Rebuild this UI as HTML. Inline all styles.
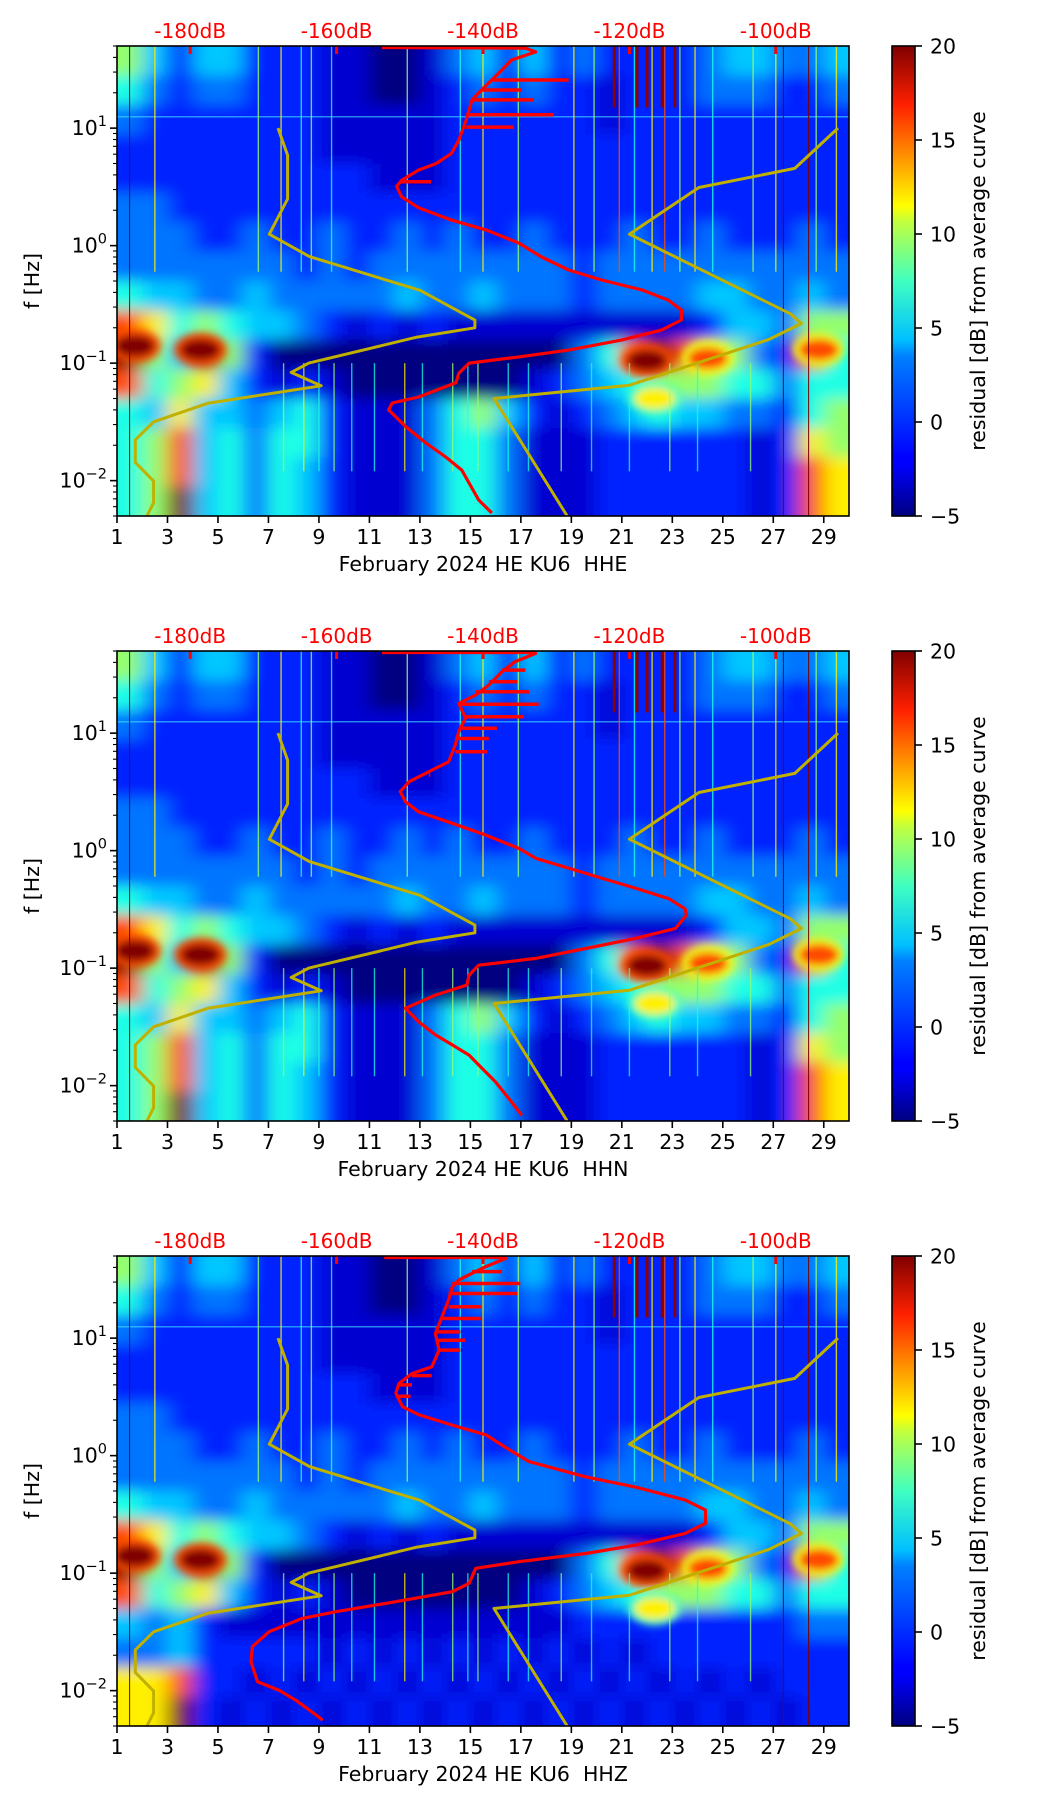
<!DOCTYPE html>
<html><head><meta charset="utf-8"><title>Residual spectrogram KU6</title>
<style>
html,body{margin:0;padding:0;background:#fff;}
svg{display:block;font-family:"DejaVu Sans","Liberation Sans",sans-serif;}
text{white-space:pre;}
</style></head>
<body>
<svg id="fig" xmlns="http://www.w3.org/2000/svg" width="1052" height="1806" viewBox="0 0 1052 1806">
<defs>
<filter id="blur" x="-5%" y="-5%" width="110%" height="110%"><feGaussianBlur stdDeviation="10 7"/></filter>
<filter id="blobBlur" x="-50%" y="-50%" width="200%" height="200%"><feGaussianBlur stdDeviation="4"/></filter>
<linearGradient id="jetGrad" x1="0" y1="1" x2="0" y2="0">
<stop offset="0" stop-color="#000080"/><stop offset="0.11" stop-color="#0000ff"/>
<stop offset="0.125" stop-color="#0000ff"/><stop offset="0.34" stop-color="#0080ff"/>
<stop offset="0.375" stop-color="#00c0ff"/><stop offset="0.5" stop-color="#40ffc0"/>
<stop offset="0.625" stop-color="#c0ff40"/><stop offset="0.66" stop-color="#ffff00"/>
<stop offset="0.875" stop-color="#ff2000"/><stop offset="1" stop-color="#800000"/>
</linearGradient>
</defs>
</svg>
<script>
// ---------- data ----------
const channels = ['HHE','HHN','HHZ'];
const dayTicks = [1,3,5,7,9,11,13,15,17,19,21,23,25,27,29];
const yTickExp = [-2,-1,0,1];
const dbTicks = [-180,-160,-140,-120,-100];
const cbarTicks = [-5,0,5,10,15,20];
const levelValues = [-5,-3,-1,1,3,5,8,11,15,20];

const nlnmPeriod = [0.1,0.17,0.4,0.8,1.24,2.4,4.3,5,6,10,12,15.6,21.9,31.6,45,70,101,154,200];
const nlnmDb = [-168.0,-166.7,-166.7,-169.2,-163.7,-148.6,-141.1,-141.1,-149.0,-163.8,-166.2,-162.1,-177.5,-185.0,-187.5,-187.5,-185.0,-185.0,-185.9];
const nhnmPeriod = [0.1,0.22,0.32,0.8,3.8,4.6,6.3,15.4,20,200];
const nhnmDb = [-91.5,-97.4,-110.5,-120.0,-98.0,-96.5,-101.0,-120.0,-138.5,-128.5];

const psdFreqE = [50,48,44.5,38,31.3,25.7,21.1,17.4,11.7,7.9,6.1,5.0,4.4,3.6,3.2,2.6,2.1,1.65,1.36,1.05,0.80,0.62,0.51,0.42,0.344,0.283,0.233,0.191,0.157,0.129,0.113,0.100,0.082,0.068,0.0515,0.0458,0.040,0.0286,0.0209,0.0159,0.0123,0.00685,0.0053];
const psdDbE = [-153.8,-134.2,-132.8,-136.1,-137.4,-138.8,-140.2,-141.5,-142.3,-143.3,-144.3,-146.4,-148.8,-151.1,-151.8,-151.1,-148.8,-144.3,-139.6,-135.1,-132.0,-128.3,-123.8,-118.3,-114.7,-112.9,-112.9,-115.6,-121.1,-128.3,-135.1,-141.9,-143.3,-143.7,-148.8,-152.4,-152.9,-150.5,-147.8,-145.1,-142.9,-140.6,-138.8];
const spikeFreqE = [25.7,21.1,17.4,13.0,10.2,3.5];
const spikeDbE = [-128.3,-134.7,-133.1,-130.3,-135.8,-147.1];

const psdFreqN = [50,50,47.7,40.6,33.3,25.7,21.1,17.9,13.4,10.3,7.9,5.7,4.7,3.86,3.18,2.61,2.14,1.71,1.36,1.045,0.86,0.71,0.58,0.48,0.39,0.32,0.283,0.218,0.179,0.147,0.121,0.106,0.0873,0.0718,0.059,0.0455,0.035,0.027,0.0222,0.0182,0.015,0.0108,0.0078,0.0056];
const psdDbN = [-153.8,-133.3,-132.8,-135.6,-137.4,-139.2,-141.0,-143.3,-142.4,-143.3,-143.8,-144.7,-147.4,-150.1,-151.3,-150.6,-148.8,-144.2,-139.7,-135.1,-132.8,-128.3,-123.7,-119.2,-114.6,-112.4,-112.2,-113.7,-119.2,-126.0,-132.8,-140.6,-141.9,-142.2,-146.5,-150.6,-148.8,-146.5,-144.2,-141.9,-140.6,-138.3,-136.5,-134.7];
const spikeFreqN = [34.4,27.4,22.5,17.6,13.8,11.0,9.0,6.95,4.4];
const spikeDbN = [-134.2,-135.3,-133.7,-132.4,-134.4,-138.1,-139.2,-139.4,-147.2];

const psdFreqZ = [50,50,47.7,40.6,35.6,31.2,27.4,21.1,15.2,11.0,7.9,5.7,5.0,4.1,3.4,2.61,2.22,1.82,1.50,1.12,0.89,0.66,0.54,0.42,0.344,0.265,0.218,0.173,0.147,0.125,0.110,0.0819,0.0695,0.0553,0.047,0.0412,0.0318,0.0237,0.0176,0.0119,0.0101,0.0083,0.0062,0.0056];
const psdDbZ = [-153.5,-137.4,-136.9,-139.6,-141.5,-143.3,-144.2,-144.7,-145.6,-146.5,-146.0,-147.0,-149.7,-151.5,-151.9,-151.0,-148.7,-144.2,-139.6,-136.4,-133.7,-126.0,-119.2,-112.4,-109.6,-109.6,-112.4,-119.2,-126.0,-135.1,-141.0,-141.9,-144.2,-153.3,-160.1,-164.7,-169.2,-171.5,-171.7,-170.8,-167.9,-165.6,-162.8,-161.9];
const spikeFreqZ = [36.8,29.2,24.0,18.5,14.7,11.3,9.6,7.9,4.8,4.0,3.2];
const spikeDbZ = [-137.4,-134.9,-135.3,-140.3,-140.3,-143.1,-142.4,-143.1,-147.0,-149.7,-149.9];

// heatmap levels (index into levelValues): rows = quarter decades from 50 Hz down, cols = days 1..29
const heatRowsEN = [
"64244222110013424232222344334",
"53233222110012323221222333223",
"32222222111112222221222222222",
"22222222111112222222222222222",
"22222222221112222222222222222",
"33222222222222222222222222222",
"33322322322323223222322322232",
"33333332323333333323333333333",
"54433433333433433323333443343",
"87565443212121111111111244366",
"96496200000000000035898763285",
"85674212100000001234566655355",
"54744345211135642123454433256",
"56845355211135531112222221276",
"56845354211135531112222221287",
"56945354211135531112222221287"];
const heatRowsZLow = [
"43421111111111111122222222233",
"33422222121212121212122222222",
"77822121212121212121212121222",
"77921212121212121212121212122"];

// concentrated high-residual blobs
const blobDays = [1.7, 4.3, 22.0, 24.4, 28.8, 22.3];
const blobFreqs = [0.14, 0.13, 0.105, 0.11, 0.13, 0.05];
const blobLevels = [9, 9, 9, 8, 8, 7];

const streakDays = [2.5,6.6,7.5,8.3,8.7,9.5,12.5,14.6,15.5,16.9,19.1,19.9,20.9,21.5,22.2,22.7,23.3,23.9,24.6,26.2,27.1,28.7,29.5];
const streakLevels = [7,6,7,5,6,5,6,5,7,6,7,6,8,5,7,8,6,7,5,6,7,6,7];
const darkRedDays = [20.7,21.6,22.0,22.6,23.1];
const lowStreakDays = [7.6,8.4,9.0,9.6,10.3,11.2,12.4,13.1,14.3,14.9,15.3,16.5,17.3,18.6,19.8,21.3,22.9,24.0,26.1];
const lowStreakLevels = [6,7,5,6,5,5,7,5,6,5,6,5,5,6,5,5,6,5,6];
const redLineDays = [1.5,27.4,28.4];

// ---------- geometry ----------
const NS = 'http://www.w3.org/2000/svg';
const svg = document.getElementById('fig');
const panelTops = [46,651,1256];
const L = 117, R = 849, W = R - L, H = 470;
const CBX = 892, CBW = 23;
const logTop = Math.log10(50), logBot = Math.log10(0.005);
function xDay(d){ return L + (d - 1) * W / 29; }
function yF(f, top){ return top + (logTop - Math.log10(f)) / (logTop - logBot) * H; }
function xDb(db){ return L + (db + 190) / 100 * W; }
function yCb(v, top){ return top + (20 - v) / 25 * H; }
function jet(v){
  const t = Math.max(0, Math.min(1, (v + 5) / 25));
  const c = x => Math.round(255 * Math.max(0, Math.min(1, x)));
  return 'rgb(' + c(1.5 - Math.abs(4*t-3)) + ',' + c(1.5 - Math.abs(4*t-2)) + ',' + c(1.5 - Math.abs(4*t-1)) + ')';
}
function mk(tag, attrs, parent){
  const e = document.createElementNS(NS, tag);
  for (const k in attrs) e.setAttribute(k, attrs[k]);
  (parent || svg).appendChild(e);
  return e;
}
function interpDb(fArr, dbArr, f){
  let best = 0, bd = 1e9;
  for (let i = 0; i < fArr.length; i++){ const d = Math.abs(Math.log10(fArr[i]) - Math.log10(f)); if (d < bd){ bd = d; best = i; } }
  return dbArr[best];
}
const psdF = [psdFreqE, psdFreqN, psdFreqZ];
const psdD = [psdDbE, psdDbN, psdDbZ];
const spF = [spikeFreqE, spikeFreqN, spikeFreqZ];
const spD = [spikeDbE, spikeDbN, spikeDbZ];

const defs = svg.querySelector('defs');

channels.forEach((ch, p) => {
  const top = panelTops[p];
  const cp = mk('clipPath', {id: 'clip' + p}, defs);
  mk('rect', {x: L, y: top, width: W, height: H}, cp);

  const panel = mk('g', {});
  
  

  const plot = mk('g', {'clip-path': 'url(#clip' + p + ')'}, panel);
  
  

  const bg = mk('rect', {x: L, y: top, width: W, height: H, fill: '#000080'}, plot);
  
  

  const heat = mk('g', {filter: 'url(#blur)'}, plot);
  
  
  const rows = heatRowsEN.map((r, i) => (p === 2 && i >= 12) ? heatRowsZLow[i - 12] : r);
  const rh = H / rows.length, cw = W / 29;
  rows.forEach((row, ri) => {
    for (let c = 0; c < row.length; c++){
      let x = xDay(1 + c), w = cw + 1, y = top + ri * rh, h = rh + 1;
      if (c === 0){ x -= 30; w += 30; }
      if (c === row.length - 1){ w += 30; }
      if (ri === 0){ y -= 30; h += 30; }
      if (ri === rows.length - 1){ h += 30; }
      const cell = mk('rect', {x: x, y: y, width: w, height: h, fill: jet(levelValues[+row[c]])}, heat);
      
      
    }
  });

  const blobs = mk('g', {filter: 'url(#blobBlur)'}, plot);
  
  
  blobDays.forEach((bd, i) => {
    const rx = W / 29 * 0.8;
    const outer = mk('ellipse', {cx: xDay(bd), cy: yF(blobFreqs[i], top), rx: rx * 1.3, ry: 17, fill: jet(levelValues[blobLevels[i]] - 5)}, blobs);
    
    
    const inner = mk('ellipse', {cx: xDay(bd), cy: yF(blobFreqs[i], top), rx: rx, ry: 11, fill: jet(levelValues[blobLevels[i]])}, blobs);
    
    
  });

  const hl = mk('line', {x1: L, x2: R, y1: yF(12.5, top), y2: yF(12.5, top), stroke: '#40e0ff', 'stroke-width': 1.5, opacity: 0.6}, plot);
  
  

  streakDays.forEach((d, i) => {
    const s = mk('line', {x1: xDay(d), x2: xDay(d), y1: top, y2: yF(0.6, top), stroke: jet(levelValues[streakLevels[i]]), 'stroke-width': 1.4, opacity: 0.8}, plot);
    
    
  });
  darkRedDays.forEach(d => {
    const s = mk('line', {x1: xDay(d), x2: xDay(d), y1: top, y2: yF(15, top), stroke: '#8b0000', 'stroke-width': 3}, plot);
    
    
  });
  lowStreakDays.forEach((d, i) => {
    const s = mk('line', {x1: xDay(d), x2: xDay(d), y1: yF(0.1, top), y2: yF(0.012, top), stroke: jet(levelValues[lowStreakLevels[i]]), 'stroke-width': 1.4, opacity: 0.75}, plot);
    
    
  });
  redLineDays.forEach(d => {
    const s = mk('line', {x1: xDay(d), x2: xDay(d), y1: top, y2: top + H, stroke: '#7a0000', 'stroke-width': 1}, plot);
    
    
  });

  const mkModel = (per, db, name) => {
    let d = '';
    per.forEach((P, i) => { d += (i ? 'L' : 'M') + xDb(db[i]).toFixed(1) + ',' + yF(1 / P, top).toFixed(1); });
    const m = mk('path', {d: d, fill: 'none', stroke: '#c0b000', 'stroke-width': 3, 'stroke-linejoin': 'round'}, plot);
    
    
  };
  mkModel(nlnmPeriod, nlnmDb, 'nlnm-curve');
  mkModel(nhnmPeriod, nhnmDb, 'nhnm-curve');

  let d = '';
  psdF[p].forEach((f, i) => { d += (i ? 'L' : 'M') + xDb(psdD[p][i]).toFixed(1) + ',' + Math.max(top + 1.5, yF(f, top)).toFixed(1); });
  const pc = mk('path', {d: d, fill: 'none', stroke: '#ff0000', 'stroke-width': 3.2, 'stroke-linejoin': 'round'}, plot);
  
  
  spF[p].forEach((f, i) => {
    const base = interpDb(psdF[p], psdD[p], f);
    const s = mk('line', {x1: xDb(base), x2: xDb(spD[p][i]), y1: yF(f, top), y2: yF(f, top), stroke: '#ff0000', 'stroke-width': 3.5}, plot);
    
    
  });

  dbTicks.forEach(db => {
    const m = mk('rect', {x: xDb(db) - 1.5, y: top, width: 3, height: 8, fill: '#ff0000'}, panel);
    
    
    const t = mk('text', {x: xDb(db), y: top - 8, 'text-anchor': 'middle', 'font-size': 20, fill: '#ff0000'}, panel);
    
    
    t.textContent = db + 'dB';
  });

  const fr = mk('rect', {x: L, y: top, width: W, height: H, fill: 'none', stroke: '#000', 'stroke-width': 1.6}, panel);
  
  

  dayTicks.forEach(dv => {
    const tk = mk('line', {x1: xDay(dv), x2: xDay(dv), y1: top + H, y2: top + H + 7, stroke: '#000', 'stroke-width': 1.6}, panel);
    
    
    const t = mk('text', {x: xDay(dv), y: top + H + 28, 'text-anchor': 'middle', 'font-size': 20.5, fill: '#000'}, panel);
    
    
    t.textContent = dv;
  });
  const xl = mk('text', {x: (L + R) / 2, y: top + H + 55, 'text-anchor': 'middle', 'font-size': 20.5, fill: '#000'}, panel);
  
  
  xl.textContent = 'February 2024 HE KU6\u00a0\u00a0' + ch;

  for (let e = -3; e <= 1; e++){
    for (let m = 1; m <= 9; m++){
      const f = m * Math.pow(10, e);
      if (f < 0.005 || f > 50) continue;
      const y = yF(f, top);
      const tk = mk('line', {x1: L, x2: L - (m === 1 ? 7 : 4), y1: y, y2: y, stroke: '#000', 'stroke-width': m === 1 ? 1.6 : 1.1}, panel);
      
      
    }
  }
  yTickExp.forEach(e => {
    const y = yF(Math.pow(10, e), top);
    const t = mk('text', {x: 107, y: y + 7, 'text-anchor': 'end', 'font-size': 20.5, fill: '#000'}, panel);
    
    
    const b = mk('tspan', {}, t);
    b.textContent = '10';
    const s = mk('tspan', {'font-size': 14.5, dy: -9}, t);
    s.textContent = e < 0 ? '\u2212' + (-e) : String(e);
  });
  const yl = mk('text', {x: 0, y: 0, transform: 'translate(39,' + (top + H / 2) + ') rotate(-90)', 'text-anchor': 'middle', 'font-size': 20.5, fill: '#000'}, panel);
  
  
  yl.textContent = 'f [Hz]';

  const cb = mk('rect', {x: CBX, y: top, width: CBW, height: H, fill: 'url(#jetGrad)', stroke: '#000', 'stroke-width': 1.6}, panel);
  
  
  cbarTicks.forEach(v => {
    const y = yCb(v, top);
    const tk = mk('line', {x1: CBX + CBW, x2: CBX + CBW + 7, y1: y, y2: y, stroke: '#000', 'stroke-width': 1.6}, panel);
    
    
    const t = mk('text', {x: CBX + CBW + 15, y: y + 7.5, 'font-size': 20.5, fill: '#000'}, panel);
    
    
    t.textContent = v < 0 ? '\u2212' + (-v) : String(v);
  });
  const cl = mk('text', {x: 0, y: 0, transform: 'translate(985,' + (top + H / 2) + ') rotate(-90)', 'text-anchor': 'middle', 'font-size': 20.5, fill: '#000'}, panel);
  
  
  cl.textContent = 'residual [dB] from average curve';
});
</script>
</body></html>
